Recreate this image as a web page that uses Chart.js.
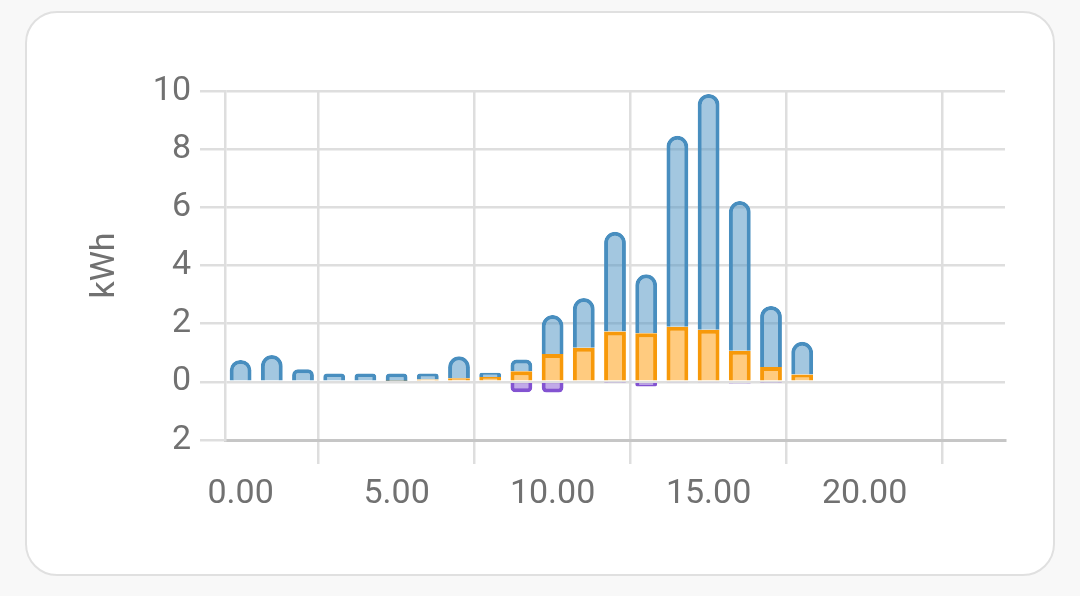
<!DOCTYPE html>
<html>
<head>
<meta charset="utf-8">
<script src="https://cdn.jsdelivr.net/npm/chart.js@4.4.1/dist/chart.umd.min.js"></script>
<style>
  html, body { margin: 0; padding: 0; width: 1080px; height: 596px; overflow: hidden; background: #f8f8f8; }
  .card { position: absolute; left: 25px; top: 11px; width: 1026px; height: 561px; background: #fff; border: 2px solid #e0e0e0; border-radius: 32px; }
  #chart1 { position: absolute; left: 0; top: 0; }
</style>
</head>
<body>
<div class="card"></div>
<canvas id="chart1" width="1080" height="596"></canvas>
<script>
const hours = [0, 1, 2, 3, 4, 5, 6, 7, 8, 9, 10, 11, 12, 13, 14, 15, 16, 17, 18, 19, 20, 21, 22, 23]
const solar = [0, 0, 0, 0, 0, 0.03, 0.08, 0.12, 0.17, 0.36, 0.96, 1.17, 1.73, 1.67, 1.89, 1.79, 1.07, 0.51, 0.25, null, null, null, null, null]
const gridUse = [0.75, 0.92, 0.43, 0.29, 0.29, 0.26, 0.21, 0.76, 0.14, 0.41, 1.34, 1.71, 3.43, 2.03, 6.57, 8.11, 5.15, 2.10, 1.13, null, null, null, null, null]
const gridReturn = [0, 0, 0, 0, 0, 0, 0, -0.03, 0, -0.36, -0.37, -0.04, -0.02, -0.16, -0.03, -0.03, -0.06, -0.02, 0, null, null, null, null, null]
const xTickLabels = ['0.00', '5.00', '10.00', '15.00', '20.00']
const xGridAt = [2.5, 7.5, 12.5, 17.5, 22.5]
const yTickValues = [-2, 0, 2, 4, 6, 8, 10]

const textGray = '#717171'
const lineGray = '#dedede'

function renderChart() {
    Chart.defaults.font.family = 'Roboto'
    const ctx = document.querySelector('#chart1').getContext('2d')

    new Chart(ctx, {
        type: 'bar',
        data: {
            labels: hours,
            datasets: [
                {
                    label: 'Solar',
                    data: solar,
                    backgroundColor: 'rgba(255,152,0,0.5)',
                    borderColor: '#f7990a',
                    borderWidth: 4,
                    borderRadius: 12,
                },
                {
                    label: 'Grid',
                    data: gridUse,
                    backgroundColor: 'rgba(72,143,194,0.5)',
                    borderColor: '#488ebf',
                    borderWidth: 4,
                    borderRadius: 12,
                },
                {
                    label: 'Return',
                    data: gridReturn,
                    backgroundColor: 'rgba(131,83,209,0.5)',
                    borderColor: '#8353d1',
                    borderWidth: 4,
                    borderRadius: 12,
                }
            ]
        },
        options: {
            responsive: false,
            devicePixelRatio: 1,
            animation: false,
            barPercentage: 0.7,
            categoryPercentage: 1,
            layout: { padding: { top: 91, right: 75, left: 0, bottom: 0 } },
            plugins: {
                legend: { display: false },
                tooltip: { enabled: false }
            },
            scales: {
                x: {
                    type: 'linear',
                    stacked: true,
                    offset: false,
                    min: -0.5,
                    max: 24.5,
                    afterBuildTicks: axis => { axis.ticks = xGridAt.map(v => ({ value: v })) },
                    afterFit: axis => { axis.height = 156 },
                    grid: { offset: false, color: lineGray, lineWidth: 2.5, tickLength: 24 },
                    border: { color: '#c6c6c6', width: 3 },
                    ticks: {
                        autoSkip: false,
                        maxRotation: 0,
                        labelOffset: -78,
                        padding: 10,
                        color: textGray,
                        font: { size: 34 },
                        callback: (v, i) => xTickLabels[i]
                    }
                },
                y: {
                    stacked: true,
                    min: -2,
                    max: 10,
                    afterBuildTicks: axis => { axis.ticks = yTickValues.map(v => ({ value: v })) },
                    afterFit: axis => { axis.width = 225 },
                    grid: { color: lineGray, lineWidth: 2.5, tickLength: 25 },
                    border: { color: lineGray, width: 2.5 },
                    title: {
                        display: true,
                        text: 'kWh',
                        color: textGray,
                        font: { size: 34 },
                        padding: { top: 85, bottom: 0 }
                    },
                    ticks: {
                        padding: 9,
                        color: textGray,
                        font: { size: 34 },
                        callback: v => String(Math.abs(v))
                    }
                }
            }
        }
    })
}

renderChart()
</script>
</body>
</html>
